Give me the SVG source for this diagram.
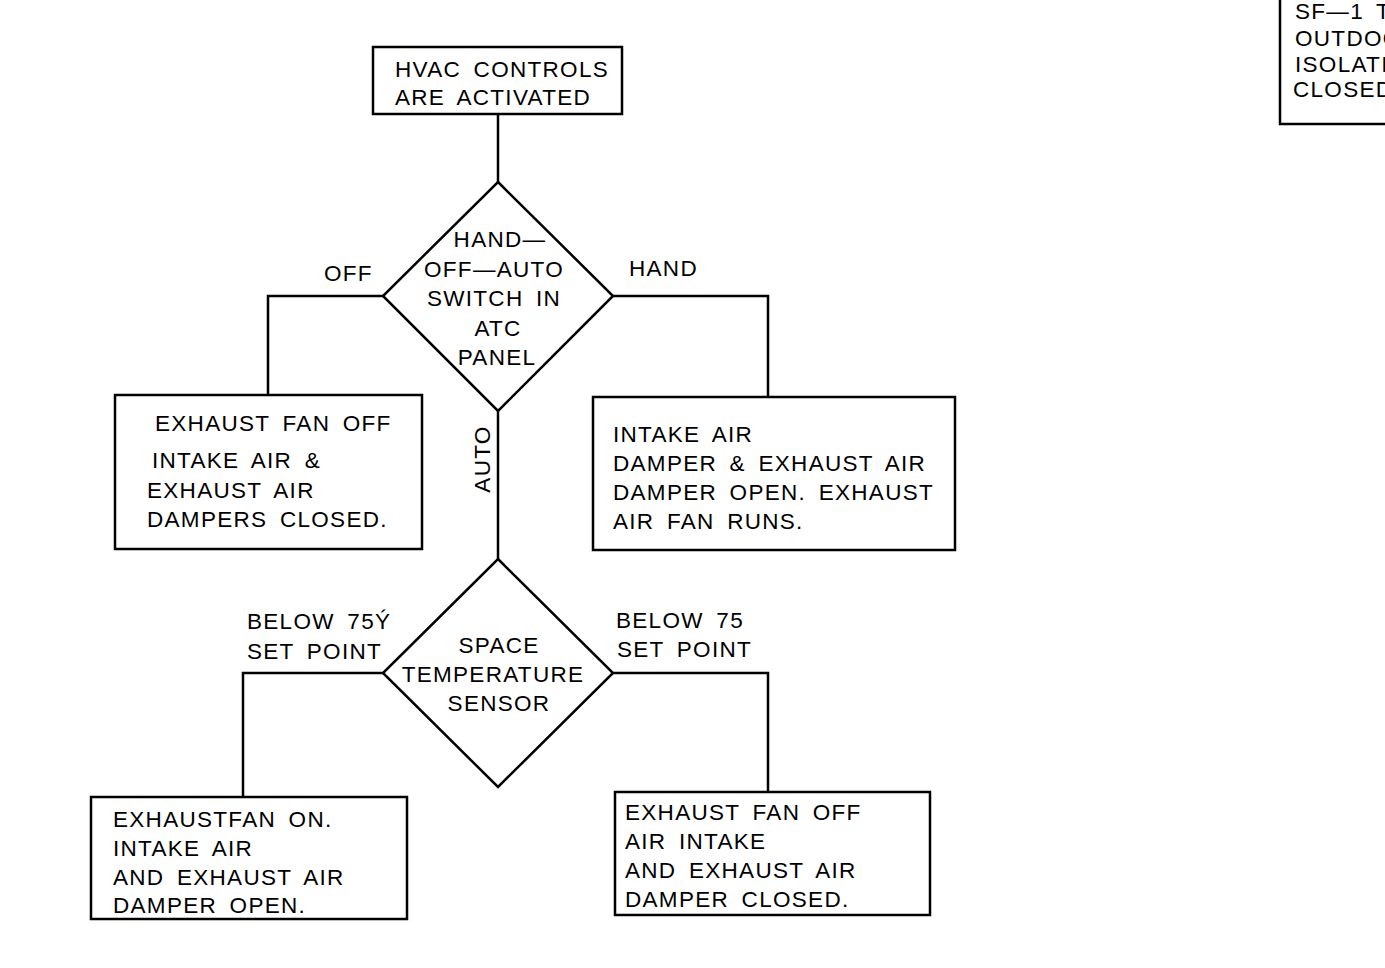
<svg xmlns="http://www.w3.org/2000/svg" width="1385" height="968" viewBox="0 0 1385 968">
<style>
.box{fill:#fff;stroke:#000;stroke-width:2.5}
.ln{fill:none;stroke:#000;stroke-width:2.5}
text{font-family:"Liberation Sans",Arial,sans-serif;font-size:22.5px;letter-spacing:1.3px;word-spacing:5px;fill:#000}
.c{text-anchor:middle}
</style>
<rect width="1385" height="968" fill="#fff"/>
<g id="connectors">
<path class="ln" d="M498 114V182"/>
<path class="ln" d="M383 296H268V395"/>
<path class="ln" d="M613 296H768V397"/>
<path class="ln" d="M498 411V559"/>
<path class="ln" d="M383 673H243V797"/>
<path class="ln" d="M613 673H768V792"/>
<text x="324" y="281">OFF</text>
<text x="629" y="276">HAND</text>
<text class="c" transform="translate(490 459) rotate(-90)">AUTO</text>
<text x="247" y="629">BELOW 75Ý</text>
<text x="247" y="659">SET POINT</text>
<text x="616" y="628">BELOW 75</text>
<text x="617" y="657">SET POINT</text>
</g>
<g id="start">
<rect class="box" x="373" y="47" width="249" height="67"/>
<text x="395" y="77">HVAC CONTROLS</text>
<text x="395" y="105">ARE ACTIVATED</text>
</g>
<g id="switch">
<polygon class="box" points="498,182 613,296 498,411 383,296"/>
<text class="c" x="500" y="247">HAND—</text>
<text class="c" x="494" y="277">OFF—AUTO</text>
<text class="c" x="494" y="306">SWITCH IN</text>
<text class="c" x="498" y="336">ATC</text>
<text class="c" x="497" y="365">PANEL</text>
</g>
<g id="off-box">
<rect class="box" x="115" y="395" width="307" height="154"/>
<text x="155" y="431">EXHAUST FAN OFF</text>
<text x="152" y="468">INTAKE AIR &amp;</text>
<text x="147" y="498">EXHAUST AIR</text>
<text x="147" y="527">DAMPERS CLOSED.</text>
</g>
<g id="hand-box">
<rect class="box" x="593" y="397" width="362" height="153"/>
<text x="613" y="442">INTAKE AIR</text>
<text x="613" y="471">DAMPER &amp; EXHAUST AIR</text>
<text x="613" y="500">DAMPER OPEN. EXHAUST</text>
<text x="613" y="529">AIR FAN RUNS.</text>
</g>
<g id="sensor">
<polygon class="box" points="498,559 613,673 498,787 383,673"/>
<text class="c" x="499" y="653">SPACE</text>
<text class="c" x="493" y="682">TEMPERATURE</text>
<text class="c" x="499" y="711">SENSOR</text>
</g>
<g id="on-box">
<rect class="box" x="91" y="797" width="316" height="122"/>
<text x="113" y="827">EXHAUSTFAN ON.</text>
<text x="113" y="856">INTAKE AIR</text>
<text x="113" y="885">AND EXHAUST AIR</text>
<text x="113" y="913">DAMPER OPEN.</text>
</g>
<g id="closed-box">
<rect class="box" x="615" y="792" width="315" height="123"/>
<text x="625" y="820">EXHAUST FAN OFF</text>
<text x="625" y="849">AIR INTAKE</text>
<text x="625" y="878">AND EXHAUST AIR</text>
<text x="625" y="907">DAMPER CLOSED.</text>
</g>
<g id="sf1-note">
<rect class="box" x="1280" y="-10" width="120" height="134"/>
<text x="1295" y="19">SF—1 T</text>
<text x="1295" y="46">OUTDOO</text>
<text x="1295" y="72">ISOLATI</text>
<text x="1293" y="97">CLOSED</text>
</g>
</svg>
